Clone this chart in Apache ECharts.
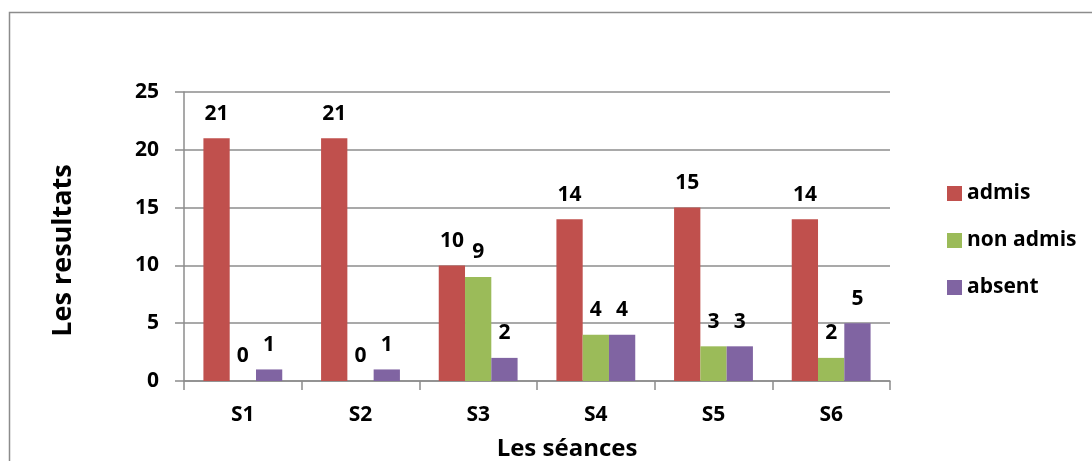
<!DOCTYPE html>
<html>
<head>
<meta charset="utf-8">
<script src="https://cdn.jsdelivr.net/npm/echarts@6/dist/echarts.min.js"></script>
<style>
  html, body { margin: 0; padding: 0; background: #fff; }
  #chart { width: 1092px; height: 461px; }
</style>
</head>
<body>
<div id="chart"></div>
<script>
// données
var seances = ['S1', 'S2', 'S3', 'S4', 'S5', 'S6'];
var admis = [21, 21, 10, 14, 15, 14];
var nonAdmis = [0, 0, 9, 4, 3, 2];
var absent = [1, 1, 2, 4, 3, 5];
var yTicks = [0, 5, 10, 15, 20, 25];

var FONT = 'Open Sans';
var labelStyle = {
    show: true,
    position: 'top',
    distance: 14,
    color: '#000',
    fontFamily: FONT,
    fontWeight: 'bold',
    fontSize: 21
};

function barSerie(name, data, color) {
    return {
        name: name,
        type: 'bar',
        data: data,
        barGap: '0%',
        barCategoryGap: '33%',
        itemStyle: { color: color },
        label: labelStyle
    };
}

var chart = echarts.init(document.getElementById('chart'), null, { renderer: 'canvas' });

chart.setOption({
    animation: false,
    graphic: [{
        type: 'rect',
        shape: { x: 9.5, y: 12.5, width: 1200, height: 600 },
        style: { fill: 'none', stroke: '#8c8c8c', lineWidth: 1.5 },
        silent: true
    }],
    grid: { left: 184, right: 202, top: 92, bottom: 80, containLabel: false, outerBoundsMode: 'none' },
    legend: {
        orient: 'vertical',
        left: 942,
        top: 178,
        itemWidth: 15,
        itemHeight: 15,
        itemGap: 26,
        icon: 'rect',
        textStyle: { color: '#000', fontFamily: FONT, fontWeight: 'bold', fontSize: 21 },
        data: ['admis', 'non admis', 'absent']
    },
    xAxis: {
        type: 'category',
        data: seances,
        name: 'Les séances',
        nameLocation: 'middle',
        nameGap: 56,
        nameTextStyle: { color: '#000', fontFamily: FONT, fontWeight: 'bold', fontSize: 24, padding: [0, 0, 0, 60] },
        axisLine: { lineStyle: { color: '#8c8c8c', width: 1.5 } },
        axisTick: { show: true, alignWithLabel: false, length: 9, lineStyle: { color: '#8c8c8c', width: 1.5 } },
        axisLabel: { color: '#000', fontFamily: FONT, fontWeight: 'bold', fontSize: 21, margin: 24 }
    },
    yAxis: {
        type: 'value',
        min: yTicks[0],
        max: yTicks[yTicks.length - 1],
        interval: 5,
        name: 'Les resultats',
        nameLocation: 'middle',
        nameGap: 107,
        nameTextStyle: { color: '#000', fontFamily: FONT, fontWeight: 'bold', fontSize: 27, padding: [0, 28, 0, 0] },
        axisLine: { show: true, lineStyle: { color: '#8c8c8c', width: 1.5 } },
        axisTick: { show: true, length: 9, lineStyle: { color: '#8c8c8c', width: 1.5 } },
        axisLabel: { color: '#000', fontFamily: FONT, fontWeight: 'bold', fontSize: 21, margin: 25 },
        splitLine: { lineStyle: { color: '#8c8c8c', width: 1.5 } }
    },
    series: [
        barSerie('admis', admis, '#C0504D'),
        barSerie('non admis', nonAdmis, '#9BBB59'),
        barSerie('absent', absent, '#8064A2')
    ]
});
</script>
</body>
</html>
